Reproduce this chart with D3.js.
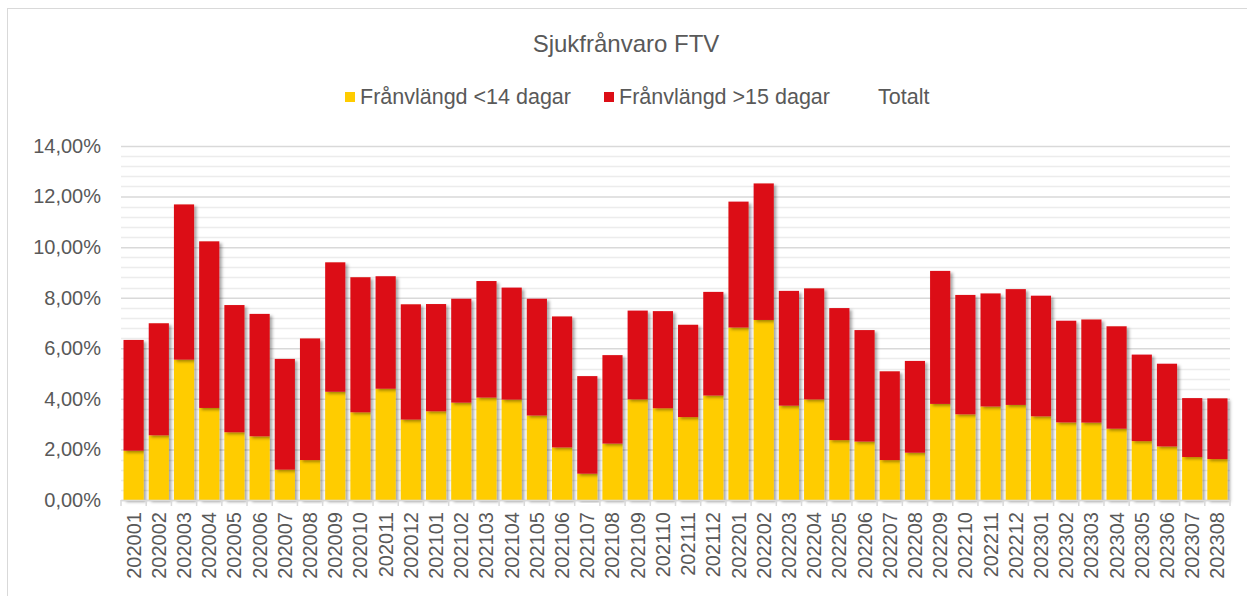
<!DOCTYPE html>
<html>
<head>
<meta charset="utf-8">
<script src="https://cdn.jsdelivr.net/npm/d3@7"></script>
<style>
  body { margin: 0; background: #fff; }
  text { font-family: "Liberation Sans", Arial, sans-serif; fill: #595959; }
</style>
</head>
<body>
<div id="chart"></div>
<script>
/* Perioder (år + månad) */
const months = ["202001","202002","202003","202004","202005","202006","202007","202008","202009","202010","202011","202012",
  "202101","202102","202103","202104","202105","202106","202107","202108","202109","202110","202111","202112",
  "202201","202202","202203","202204","202205","202206","202207","202208","202209","202210","202211","202212",
  "202301","202302","202303","202304","202305","202306","202307","202308"]

/* Frånvaro < 14 dagar (%) */
const shortAbsence = [1.95,2.56,5.55,3.64,2.68,2.52,1.20,1.58,4.28,3.47,4.40,3.18,
  3.51,3.85,4.05,3.97,3.34,2.08,1.04,2.23,3.98,3.63,3.28,4.13,
  6.82,7.12,3.73,3.98,2.37,2.31,1.58,1.87,3.80,3.39,3.70,3.76,
  3.31,3.07,3.06,2.82,2.33,2.12,1.70,1.62]

/* Frånvaro > 15 dagar (%) */
const longAbsence = [4.38,4.43,6.14,6.59,5.03,4.84,4.38,4.81,5.12,5.34,4.45,4.56,
  4.24,4.11,4.61,4.43,4.62,5.18,3.86,3.50,3.51,3.84,3.65,4.10,
  4.98,5.40,4.54,4.39,5.22,4.41,3.51,3.63,5.26,4.72,4.47,4.58,
  4.77,4.02,4.08,4.05,3.42,3.27,2.33,2.40]

const yTicks = [0, 2, 4, 6, 8, 10, 12, 14]
const seriesNames = ["Frånvlängd <14 dagar", "Frånvlängd >15 dagar", "Totalt"]

const w = 1247, h = 596
const margin = {top: 146, right: 17, bottom: 96, left: 121}

const colors = {short: "#FFCC00", long: "#DC0E16"}

const svg = d3.select("#chart").append("svg")
  .attr("width", w)
  .attr("height", h)

/* Skugga under staplarna */
const filter = svg.append("defs").append("filter")
  .attr("id", "shadow")
  .attr("x", "-20%").attr("y", "-5%")
  .attr("width", "160%").attr("height", "115%")
filter.append("feDropShadow")
  .attr("dx", 2.5).attr("dy", 2)
  .attr("stdDeviation", 1.8)
  .attr("flood-color", "#000")
  .attr("flood-opacity", 0.35)

/* Ram runt diagrammet */
svg.append("rect")
  .attr("x", 7.5).attr("y", 8.5)
  .attr("width", w + 10).attr("height", h + 10)
  .attr("fill", "none")
  .attr("stroke", "#d9d9d9")

/* Titel */
svg.append("text")
  .attr("x", 626).attr("y", 52)
  .attr("text-anchor", "middle")
  .style("font-size", "24px")
  .text("Sjukfrånvaro FTV")

/* Skalor */
const x = d3.scaleBand()
  .domain(months)
  .range([margin.left, w - margin.right])
  .paddingInner(0.2)
  .paddingOuter(0.1)

const y = d3.scaleLinear()
  .domain([0, 14])
  .range([h - margin.bottom, margin.top])

/* Stödlinjer: svaga var 0,4 %, tydligare var 2 % */
const minorTicks = d3.range(0, 14.001, 0.4).filter(v => Math.abs(v / 2 - Math.round(v / 2)) > 0.01)
svg.append("g")
  .selectAll("line")
  .data(minorTicks)
  .join("line")
  .attr("x1", margin.left).attr("x2", w - margin.right)
  .attr("y1", d => Math.round(y(d)) + 0.5).attr("y2", d => Math.round(y(d)) + 0.5)
  .attr("stroke", "#ececec")
  .attr("stroke-width", 1.5)

svg.append("g")
  .attr("transform", `translate(${margin.left},0)`)
  .call(d3.axisLeft(y).tickValues(yTicks).tickSize(-(w - margin.left - margin.right)).tickFormat(""))
  .call(g => g.select(".domain").remove())
  .call(g => g.selectAll(".tick line").attr("stroke", "#d9d9d9").attr("stroke-width", 1.5))

/* Y-axel etiketter */
svg.append("g")
  .attr("transform", `translate(${margin.left},0)`)
  .call(d3.axisLeft(y).tickValues(yTicks).tickSize(0).tickPadding(20)
    .tickFormat(d => d3.format(".2f")(d).replace(".", ",") + "%"))
  .call(g => g.select(".domain").remove())
  .call(g => g.selectAll("text").style("font-size", "20px").attr("fill", "#595959"))

/* Staplade staplar */
const table = months.map((m, i) => ({month: m, short: shortAbsence[i], long: longAbsence[i]}))
const stack = d3.stack().keys(["short", "long"])(table)

svg.append("g")
  .selectAll("g")
  .data(stack)
  .join("g")
  .attr("fill", d => colors[d.key])
  .selectAll("rect")
  .data(d => d)
  .join("rect")
  .attr("x", d => x(d.data.month))
  .attr("y", d => y(d[1]))
  .attr("width", x.bandwidth())
  .attr("height", d => y(d[0]) - y(d[1]))
  .attr("filter", "url(#shadow)")

/* X-axel */
const step = x.step()
svg.append("g")
  .attr("transform", `translate(0,${h - margin.bottom})`)
  .call(d3.axisBottom(x).tickSize(0).tickPadding(8))
  .call(g => g.select(".domain").attr("stroke", "#d9d9d9").attr("stroke-width", 1.5))
  .call(g => g.selectAll("text")
    .style("font-size", "20px")
    .attr("fill", "#595959")
    .attr("transform", "rotate(-90)")
    .attr("text-anchor", "end")
    .attr("dy", "0.35em")
    .attr("x", -12).attr("y", 0))

/* Små streck mellan kategorierna */
svg.append("g")
  .selectAll("line")
  .data(d3.range(months.length + 1))
  .join("line")
  .attr("x1", i => margin.left + i * step)
  .attr("x2", i => margin.left + i * step)
  .attr("y1", h - margin.bottom)
  .attr("y2", h - margin.bottom + 6)
  .attr("stroke", "#d9d9d9")
  .attr("stroke-width", 1.5)

/* Förklaring */
const legend = svg.append("g").attr("transform", "translate(0,104)")
const legendItems = [
  {name: seriesNames[0], color: colors.short, x: 345},
  {name: seriesNames[1], color: colors.long, x: 604},
  {name: seriesNames[2], color: null, x: 863}
]
legendItems.forEach(item => {
  if (item.color) {
    legend.append("rect")
      .attr("x", item.x).attr("y", -12)
      .attr("width", 10).attr("height", 10)
      .attr("fill", item.color)
  }
  legend.append("text")
    .attr("x", item.x + 15).attr("y", 0)
    .style("font-size", "21.5px")
    .text(item.name)
})
</script>
</body>
</html>
